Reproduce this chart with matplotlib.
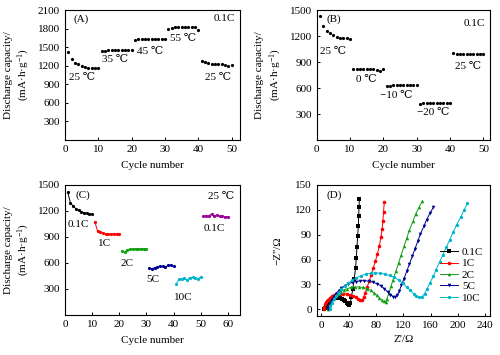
import matplotlib
matplotlib.use("Agg")
import matplotlib.pyplot as plt

plt.rcParams['font.family'] = ['Liberation Serif', 'DejaVu Serif', 'DejaVu Sans']
plt.rcParams['font.size'] = 8
plt.rcParams['mathtext.fontset'] = 'custom'
plt.rcParams['mathtext.rm'] = 'Liberation Serif'
plt.rcParams['mathtext.it'] = 'Liberation Serif:italic'
plt.rcParams['axes.linewidth'] = 0.8

# ---------------- data ----------------
cycles_a = list(range(1, 51))
cap_a = [1425, 1305, 1250, 1220, 1200, 1180, 1170, 1165, 1160, 1160,
         1440, 1445, 1450, 1450, 1450, 1455, 1455, 1450, 1450, 1450,
         1610, 1625, 1630, 1635, 1635, 1635, 1635, 1635, 1635, 1635,
         1800, 1815, 1820, 1825, 1830, 1830, 1830, 1830, 1825, 1770,
         1270, 1255, 1245, 1235, 1225, 1220, 1220, 1215, 1197, 1208]
labels_a = ["25 ℃", "35 ℃", "45 ℃", "55 ℃", "25 ℃"]
labx_a = [5, 15, 25.5, 35.5, 46]
laby_a = [1010, 1295, 1425, 1635, 1010]

cycles_b = list(range(1, 51))
cap_b = [1432, 1312, 1256, 1230, 1211, 1192, 1180, 1172, 1172, 1170,
         815, 815, 815, 815, 815, 815, 815, 812, 800, 825,
         620, 628, 630, 630, 630, 630, 630, 630, 630, 630,
         420, 424, 425, 425, 425, 425, 425, 425, 425, 426,
         1005, 998, 997, 997, 997, 997, 997, 997, 997, 997]
labels_b = ["25 ℃", "0 ℃", "−10 ℃", "−20 ℃", "25 ℃"]
labx_b = [5, 15, 24, 35, 45.5]
laby_b = [1024, 694, 517, 319, 844]

rates_c = ["0.1C", "1C", "2C", "5C", "10C", "0.1C"]
colors_c = ["#000000", "#ff0000", "#12a012", "#000090", "#00b4cc", "#990099"]
cycles_c = [list(range(1, 11)), list(range(11, 21)), list(range(21, 31)),
            list(range(31, 41)), list(range(41, 51)), list(range(51, 61))]
cap_c = [[1417, 1294, 1256, 1226, 1207, 1192, 1181, 1172, 1170, 1162],
         [1078, 965, 955, 945, 940, 935, 935, 935, 935, 935],
         [740, 725, 755, 760, 762, 765, 765, 765, 765, 765],
         [540, 535, 545, 555, 565, 560, 550, 575, 575, 560],
         [360, 410, 420, 425, 405, 430, 435, 430, 415, 440],
         [1140, 1145, 1145, 1165, 1145, 1150, 1140, 1140, 1135, 1135]]
labx_c = [5, 14.5, 23, 32.5, 43.5, 55]
laby_c = [1042, 825, 592, 405, 199, 1001]

eis_labels = ["0.1C", "1C", "2C", "5C", "10C"]
eis_colors = ["#000000", "#ff0000", "#12a012", "#000090", "#00b4cc"]
eis_markers = ["s", "o", "^", "v", "h"]
zre_01 = [4, 5, 6, 8, 10, 12, 15, 18, 21, 24, 27, 30, 33, 35, 37, 39, 40,
          42, 44, 46, 48, 50, 51, 52, 53, 54, 54.5, 55, 55.5]
zim_01 = [0, 2, 4, 6.5, 8.5, 10.5, 12, 13.5, 14, 14, 13.5, 12.5, 11, 9.5, 8, 6.5, 5.5,
          8, 15, 25, 37, 50, 62, 75, 88, 100, 112, 123, 133]
zre_1 = [3, 4, 5, 7, 9, 12, 15, 19, 23, 27, 32, 37, 42, 46, 50, 54, 57,
         60, 62, 64, 67, 70, 73, 76, 79, 82, 85, 87, 89, 90, 91, 92]
zim_1 = [0, 3, 6, 9, 11.5, 14, 16, 17.5, 18.5, 19, 19, 18.5, 17.5, 16, 14.5, 12.5, 11,
         11.5, 15, 20, 27, 34, 42, 50, 58, 67, 77, 87, 97, 107, 118, 129]
zre_2 = [9, 10, 12, 14, 17, 20, 24, 28, 33, 38, 43, 49, 55, 61, 67, 72, 77, 81, 85, 88, 91,
         94, 96, 99, 102, 105, 109, 113, 117, 121, 125, 129, 134, 138, 143, 148]
zim_2 = [0, 3, 7, 10, 13, 16, 19, 21.5, 23.5, 25, 26.5, 27, 27, 26.5, 25, 23, 20, 17, 14, 11.5, 9.5,
         9, 13, 20, 28, 36, 46, 56, 66, 76, 86, 96, 106, 115, 123, 131]
zre_5 = [10, 11, 13, 15, 18, 21, 25, 29, 34, 39, 45, 51, 57, 63, 69, 75, 81, 87, 92, 97, 101, 105,
         108, 111, 114, 117, 121, 125, 129, 133, 137, 141, 145, 150, 154, 159, 164]
zim_5 = [0, 3, 7, 11, 15, 19, 22.5, 25.5, 28.5, 30.5, 32.5, 33.5, 34.5, 34.5, 34, 33, 31, 28.5, 25, 21, 17.5, 15.5,
         15, 17, 22, 29, 37, 46, 55, 64, 73, 82, 91, 100, 108, 116, 123]
zre_10 = [12, 13, 15, 18, 21, 25, 29, 34, 39, 45, 51, 58, 65, 72, 79, 86, 93, 100, 107, 113, 119,
          125, 130, 135, 139, 143, 147, 151, 155, 159, 164, 168, 173, 178, 183, 188, 193, 198, 204, 209, 214]
zim_10 = [0, 4, 8, 12, 16, 20, 24, 28, 31.5, 35, 38, 40.5, 42.5, 43.5, 44, 43.5, 42.5, 41, 38.5, 35.5, 31.5,
          27, 23, 19, 16, 14.5, 15, 19, 25, 32, 40, 48, 57, 66, 75, 84, 93, 102, 111, 120, 128]
zre_all = [zre_01, zre_1, zre_2, zre_5, zre_10]
zim_all = [zim_01, zim_1, zim_2, zim_5, zim_10]

ylab_cap = "Discharge capacity/\n(mA·h·g$^{-1}$)"
FS = 8

fig = plt.figure(figsize=(5.0, 3.55), dpi=100)
axA = fig.add_axes([0.13, 0.6056, 0.35, 0.3662])
axB = fig.add_axes([0.6334, 0.6056, 0.3466, 0.3662])
axC = fig.add_axes([0.13, 0.1127, 0.35, 0.3662])
axD = fig.add_axes([0.6334, 0.1099, 0.3466, 0.369])

def style(ax):
    ax.tick_params(direction='in', length=2.5, width=0.7, top=False, right=False,
                   labelsize=FS, pad=3.5)

# A
axA.plot(cycles_a, cap_a, 'o', color='k', ms=2.3, mew=0)
axA.set_xlim(0, 52.5)
axA.set_ylim(0, 2100)
axA.set_xticks([0, 10, 20, 30, 40, 50])
axA.set_yticks([300, 600, 900, 1200, 1500, 1800, 2100])
for t, x, y in zip(labels_a, labx_a, laby_a):
    axA.text(x, y, t, ha='center', va='center', fontsize=FS)
axA.text(2.4, 1945, "(A)", ha='left', va='center', fontsize=FS)
axA.text(51, 1955, "0.1C", ha='right', va='center', fontsize=FS)
axA.set_xlabel("Cycle number", labelpad=5)
axA.set_ylabel(ylab_cap, labelpad=4, linespacing=1.35)
style(axA)

# B
axB.plot(cycles_b, cap_b, 'o', color='k', ms=2.3, mew=0)
axB.set_xlim(0, 52)
axB.set_ylim(0, 1500)
axB.set_xticks([0, 10, 20, 30, 40, 50])
axB.set_yticks([300, 600, 900, 1200, 1500])
for t, x, y in zip(labels_b, labx_b, laby_b):
    axB.text(x, y, t, ha='center', va='center', fontsize=FS)
axB.text(3, 1390, "(B)", ha='left', va='center', fontsize=FS)
axB.text(50.5, 1350, "0.1C", ha='right', va='center', fontsize=FS)
axB.set_xlabel("Cycle number", labelpad=5)
axB.set_ylabel(ylab_cap, labelpad=4, linespacing=1.35)
style(axB)

# C
for xs, ys, c in zip(cycles_c, cap_c, colors_c):
    axC.plot(xs, ys, '-o', color=c, ms=2.3, mew=0, lw=0.7)
for t, x, y in zip(rates_c, labx_c, laby_c):
    axC.text(x, y, t, ha='center', va='center', fontsize=FS)
axC.text(4, 1387, "(C)", ha='left', va='center', fontsize=FS)
axC.text(62.5, 1370, "25 ℃", ha='right', va='center', fontsize=FS)
axC.set_xlim(0, 64.5)
axC.set_ylim(0, 1500)
axC.set_xticks([0, 10, 20, 30, 40, 50, 60])
axC.set_yticks([300, 600, 900, 1200, 1500])
axC.set_xlabel("Cycle number", labelpad=5)
axC.set_ylabel(ylab_cap, labelpad=4, linespacing=1.35)
style(axC)

# D
for xs, ys, c, m, lab in zip(zre_all, zim_all, eis_colors, eis_markers, eis_labels):
    axD.plot(xs, ys, '-', marker=m, color=c, ms=2.6, mew=0, lw=0.7, label=lab)
axD.set_xlim(-7, 247)
axD.set_ylim(-8, 150)
axD.set_xticks([0, 40, 80, 120, 160, 200, 240])
axD.set_yticks([0, 30, 60, 90, 120, 150])
axD.text(8, 138, "(D)", ha='left', va='center', fontsize=FS)
axD.set_xlabel("Z'/Ω", labelpad=4)
axD.set_ylabel("−Z''/Ω", labelpad=9)
leg = axD.legend(loc='lower right', bbox_to_anchor=(1.0, 0.05), frameon=False,
                 fontsize=FS, handlelength=1.6, handletextpad=0.4, labelspacing=0.15,
                 borderaxespad=0.2)
style(axD)

fig.savefig("out.png", dpi=100)
